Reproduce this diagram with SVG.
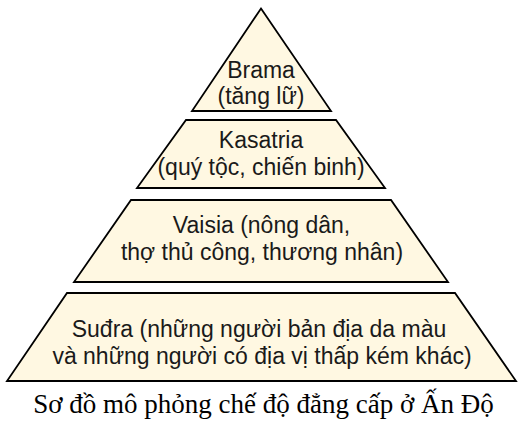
<svg xmlns="http://www.w3.org/2000/svg" width="528" height="435" viewBox="0 0 528 435">
<style>
.tier{fill:#FFF8E2;stroke:#000;stroke-width:1.8;stroke-linejoin:miter}
.lbl{font-family:"Liberation Sans",Arial,sans-serif;font-size:23px;fill:#1a1a1a;text-anchor:middle}
.cap{font-family:"Liberation Serif","Times New Roman",serif;font-size:27px;fill:#000;text-anchor:middle}
</style>
<rect width="528" height="435" fill="#fff"/>
<g id="brama">
<polygon class="tier" points="261,8.5 331,111 192,111"/>
<text class="lbl" x="261" y="78">Brama</text>
<text class="lbl" x="261" y="104">(tăng lữ)</text>
</g>
<g id="kasatria">
<polygon class="tier" points="186,120 336,120 385,188 137,188"/>
<text class="lbl" x="261" y="148">Kasatria</text>
<text class="lbl" x="261" y="175">(quý tộc, chiến binh)</text>
</g>
<g id="vaisia">
<polygon class="tier" points="131,200 391,200 448,282 74,282"/>
<text class="lbl" x="261.5" y="233">Vaisia (nông dân,</text>
<text class="lbl" x="262" y="260">thợ thủ công, thương nhân)</text>
</g>
<g id="sudra">
<polygon class="tier" points="67,293 455,293 516,381 7,381"/>
<text class="lbl" x="259" y="337">Suđra (những người bản địa da màu</text>
<text class="lbl" x="262" y="364">và những người có địa vị thấp kém khác)</text>
</g>
<g id="connectors"></g>
<text class="cap" x="263.5" y="413">Sơ đồ mô phỏng chế độ đẳng cấp ở Ấn Độ</text>
</svg>
